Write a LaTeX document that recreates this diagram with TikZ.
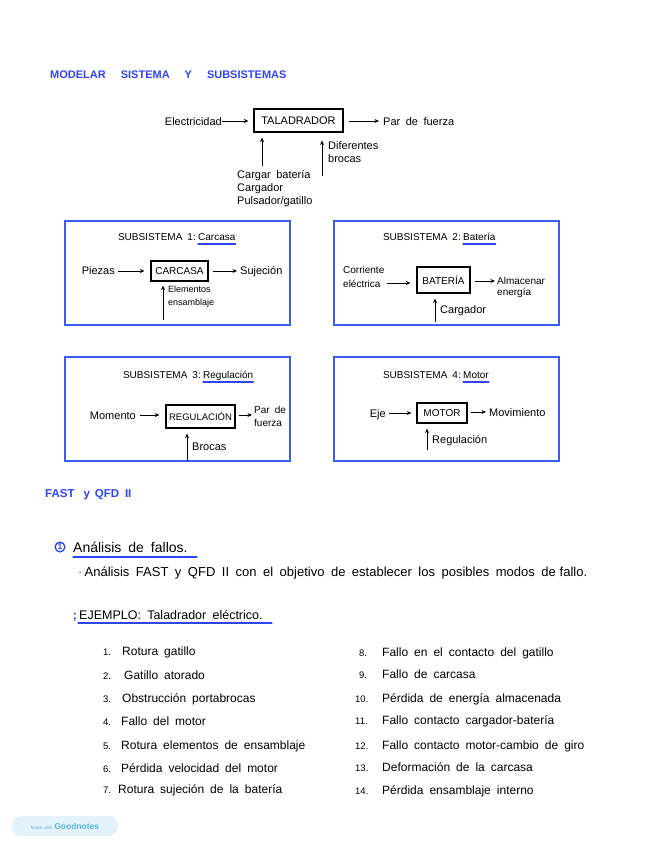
\documentclass[tikz,border=0pt]{standalone}
\usepackage{fontspec}
\setmainfont{Liberation Sans}[WordSpace=1.8]
\usetikzlibrary{arrows.meta}
\definecolor{ink}{HTML}{2F45F2}
\definecolor{boxblue}{HTML}{3B5BF5}
\definecolor{badge}{HTML}{E4F3FB}
\definecolor{badgetxt}{HTML}{5AB4DE}
\begin{document}
\begin{tikzpicture}[x=1pt,y=-1pt,
  txt/.style={font=\fontsize{11}{13}\selectfont, inner sep=0pt, text=black, align=left},
  blk/.style={draw=black, line width=1.2pt, inner sep=0pt, font=\fontsize{10}{11}\selectfont},
  arr/.style={-{Stealth[length=4.5pt,width=4pt]}, line width=0.8pt},
  frame/.style={draw=boxblue, line width=1.6pt, inner sep=0pt},
  ttl/.style={font=\fontsize{10}{11}\selectfont, inner sep=0pt, text=black},
  ul/.style={draw=ink, line width=1.2pt, line cap=round},
  item/.style={font=\fontsize{12}{13}\selectfont, inner sep=0pt, anchor=base west},
  num/.style={font=\fontsize{9.5}{12}\selectfont, inner sep=0pt, anchor=base west},
]
\path[use as bounding box] (0,0) rectangle (656,848);

% header
\node[font=\bfseries\fontsize{11}{12}\selectfont, text=ink, anchor=base west, inner sep=0pt] (hdr) at (50,79)
  {MODELAR\hspace{15pt}SISTEMA\hspace{15pt}Y\hspace{15pt}SUBSISTEMAS};

% top diagram
\node[blk, minimum width=89, minimum height=23, font=\fontsize{11}{12}\selectfont] (tal) at (298.5,120.5) {TALADRADOR};
\node[txt, anchor=base east] (elec) at (222,125) {Electricidad};
\node[txt, anchor=base west] (par) at (383,125) {Par de fuerza};
\draw[arr, shorten >=5pt] (elec.east |- 0,121) -- (tal.west |- 0,121);
\draw[arr, shorten <=5pt, shorten >=4pt] (tal.east |- 0,121) -- (par.west |- 0,121);
\coordinate (a1) at (262,166);
\draw[arr, shorten >=5pt] (a1) -- (a1 |- tal.south);
\node[txt, anchor=north west] (cb) at (237,170) {Cargar batería\\Cargador\\Pulsador/gatillo};
\coordinate (a2) at (322,176);
\draw[arr, shorten >=8pt] (a2) -- (a2 |- tal.south);
\node[txt, anchor=north west] (db) at (328,141) {Diferentes\\brocas};

% subsystem 1
\node[frame, minimum width=225, minimum height=104] (f1) at (177.5,273) {};
\node[ttl, anchor=base east] (t1) at (196,240) {SUBSISTEMA 1:};
\node[ttl, anchor=base west] (t1w) at (198,240) {Carcasa};
\draw[ul] (t1w.west |- 0,244) -- (t1w.east |- 0,244);
\node[blk, minimum width=57, minimum height=20] (b1) at (179.5,271) {CARCASA};
\node[txt, anchor=base east] (p1) at (115,274) {Piezas};
\node[txt, anchor=base west] (s1) at (240,274) {Sujeción};
\draw[arr, shorten <=3pt, shorten >=6pt] (p1.east |- 0,271) -- (b1.west);
\draw[arr, shorten <=4pt, shorten >=3pt] (b1.east) -- (s1.west |- 0,271);
\coordinate (a3) at (163,320);
\draw[arr, shorten >=4pt] (a3) -- (a3 |- b1.south);
\node[txt, anchor=north west, font=\fontsize{9}{12.5}\selectfont] (e1) at (168,286) {Elementos\\ensamblaje};

% subsystem 2
\node[frame, minimum width=225, minimum height=104] (f2) at (446.5,273) {};
\node[ttl, anchor=base east] (t2) at (461,240) {SUBSISTEMA 2:};
\node[ttl, anchor=base west] (t2w) at (463,240) {Batería};
\draw[ul] (t2w.west |- 0,244) -- (t2w.east |- 0,244);
\node[blk, minimum width=53, minimum height=26] (b2) at (443.5,280) {BATERÍA};
\node[txt, anchor=north west, font=\fontsize{10}{14}\selectfont] (c2) at (343,266) {Corriente\\eléctrica};
\node[txt, anchor=west, font=\fontsize{10}{11}\selectfont] (s2) at (497,287) {Almacenar\\energía};
\coordinate (c2s) at (387,283);
\draw[arr, shorten >=6pt] (c2s) -- (c2s -| b2.west);
\draw[arr, shorten <=4pt, shorten >=2pt] (b2.east |- 0,281) -- (s2.west |- 0,281);
\coordinate (a4) at (435,322);
\draw[arr, shorten >=5pt] (a4) -- (a4 |- b2.south);
\node[txt, anchor=west] (cg2) at (440,311) {Cargador};

% subsystem 3
\node[frame, minimum width=225, minimum height=104] (f3) at (177.5,409) {};
\node[ttl, anchor=base east] (t3) at (201,378) {SUBSISTEMA 3:};
\node[ttl, anchor=base west] (t3w) at (203,378) {Regulación};
\draw[ul] (t3w.west |- 0,382) -- (t3w.east |- 0,382);
\node[blk, minimum width=69, minimum height=23, font=\fontsize{9.5}{10}\selectfont] (b3) at (200.5,416.5) {REGULACIÓN};
\node[txt, anchor=base east] (m3) at (136,419) {Momento};
\node[txt, anchor=west, font=\fontsize{10}{13}\selectfont] (p3) at (254,416) {Par de\\fuerza};
\draw[arr, shorten <=4pt, shorten >=6pt] (m3.east |- 0,415) -- (b3.west |- 0,415);
\draw[arr, shorten <=3pt, shorten >=2pt] (b3.east |- 0,415) -- (p3.west |- 0,415);
\coordinate (a5) at (187,461);
\draw[arr, shorten >=5pt] (a5) -- (a5 |- b3.south);
\node[txt, anchor=west] (br3) at (192,447) {Brocas};

% subsystem 4
\node[frame, minimum width=225, minimum height=104] (f4) at (446.5,409) {};
\node[ttl, anchor=base east] (t4) at (461,378) {SUBSISTEMA 4:};
\node[ttl, anchor=base west] (t4w) at (463,378) {Motor};
\draw[ul] (t4w.west |- 0,382) -- (t4w.east |- 0,382);
\node[blk, minimum width=50, minimum height=20] (b4) at (442,413) {MOTOR};
\node[txt, anchor=base east] (e4) at (386,417) {Eje};
\node[txt, anchor=base west] (mv4) at (489,416) {Movimiento};
\draw[arr, shorten <=3pt, shorten >=5pt] (e4.east |- 0,413) -- (b4.west);
\draw[arr, shorten <=3pt, shorten >=3pt] (b4.east |- 0,412) -- (mv4.west |- 0,412);
\coordinate (a6) at (427,450);
\draw[arr, shorten >=5pt] (a6) -- (a6 |- b4.south);
\node[txt, anchor=west] (rg4) at (432,441) {Regulación};

% FAST section
\node[font=\bfseries\fontsize{11.5}{12}\selectfont, text=ink, anchor=base west, inner sep=0pt] (fast) at (45,497)
  {FAST\hspace{9pt}y\hspace{5pt}QFD II};

\node[draw=ink, circle, line width=1.3pt, inner sep=0.8pt, text=ink, font=\bfseries\fontsize{8.5}{8}\selectfont] (n1) at (60,547) {1};
\node[font=\fontsize{14}{15}\selectfont, inner sep=0pt, anchor=base west] (af) at (73,552) {Análisis de fallos.};
\coordinate (u1) at (73,557);
\draw[ul] (u1) -- ++(124,0);
\node[font=\fontsize{13}{14}\selectfont, inner sep=0pt, anchor=base west] (desc) at (78,576)
  {{\color{ink}·}\,Análisis FAST y QFD II con el objetivo de establecer los posibles modos de\hspace{4pt}fallo.};

\node[font=\bfseries\fontsize{12}{12}\selectfont, text=ink, inner sep=0pt, anchor=base east] (sg) at (77,619) {;};
\node[font=\fontsize{12.5}{13}\selectfont, inner sep=0pt, anchor=base west] (ej) at (79,619) {EJEMPLO: Taladrador eléctrico.};
\coordinate (u2) at (78,623);
\draw[ul] (u2) -- ++(194,0);

% left list
\node[num] (n01) at (103,655) {1.}; \node[item] (i01) at (122,655) {Rotura gatillo};
\node[num] (n02) at (103,679) {2.}; \node[item] (i02) at (124,679) {Gatillo atorado};
\node[num] (n03) at (103,702) {3.}; \node[item] (i03) at (122,702) {Obstrucción portabrocas};
\node[num] (n04) at (103,725) {4.}; \node[item] (i04) at (121,725) {Fallo del motor};
\node[num] (n05) at (103,749) {5.}; \node[item] (i05) at (121,749) {Rotura elementos de ensamblaje};
\node[num] (n06) at (103,772) {6.}; \node[item] (i06) at (121,772) {Pérdida velocidad del motor};
\node[num] (n07) at (103,793) {7.}; \node[item] (i07) at (118,793) {Rotura sujeción de la batería};

% right list
\node[num] (n08) at (359,656) {8.}; \node[item] (i08) at (382,656) {Fallo en el contacto del gatillo};
\node[num] (n09) at (359,678) {9.}; \node[item] (i09) at (382,678) {Fallo de carcasa};
\node[num] (n10) at (355,702) {10.}; \node[item] (i10) at (382,702) {Pérdida de energía almacenada};
\node[num] (n11) at (355,724) {11.}; \node[item] (i11) at (382,724) {Fallo contacto cargador-batería};
\node[num] (n12) at (355,749) {12.}; \node[item] (i12) at (382,749) {Fallo contacto motor-cambio de giro};
\node[num] (n13) at (355,771) {13.}; \node[item] (i13) at (382,771) {Deformación de la carcasa};
\node[num] (n14) at (355,794) {14.}; \node[item] (i14) at (382,794) {Pérdida ensamblaje interno};

% badge
\node[fill=badge, rounded corners=9pt, minimum width=106, minimum height=20, inner sep=0pt] (bdg) at (65,826) {};
\node[inner sep=0pt, text=badgetxt, anchor=center] (bdgt) at (bdg.center)
  {{\fontsize{4.5}{5}\selectfont Made with}\hspace{2pt}{\bfseries\fontsize{8.5}{9}\selectfont Goodnotes}};
\end{tikzpicture}
\end{document}
